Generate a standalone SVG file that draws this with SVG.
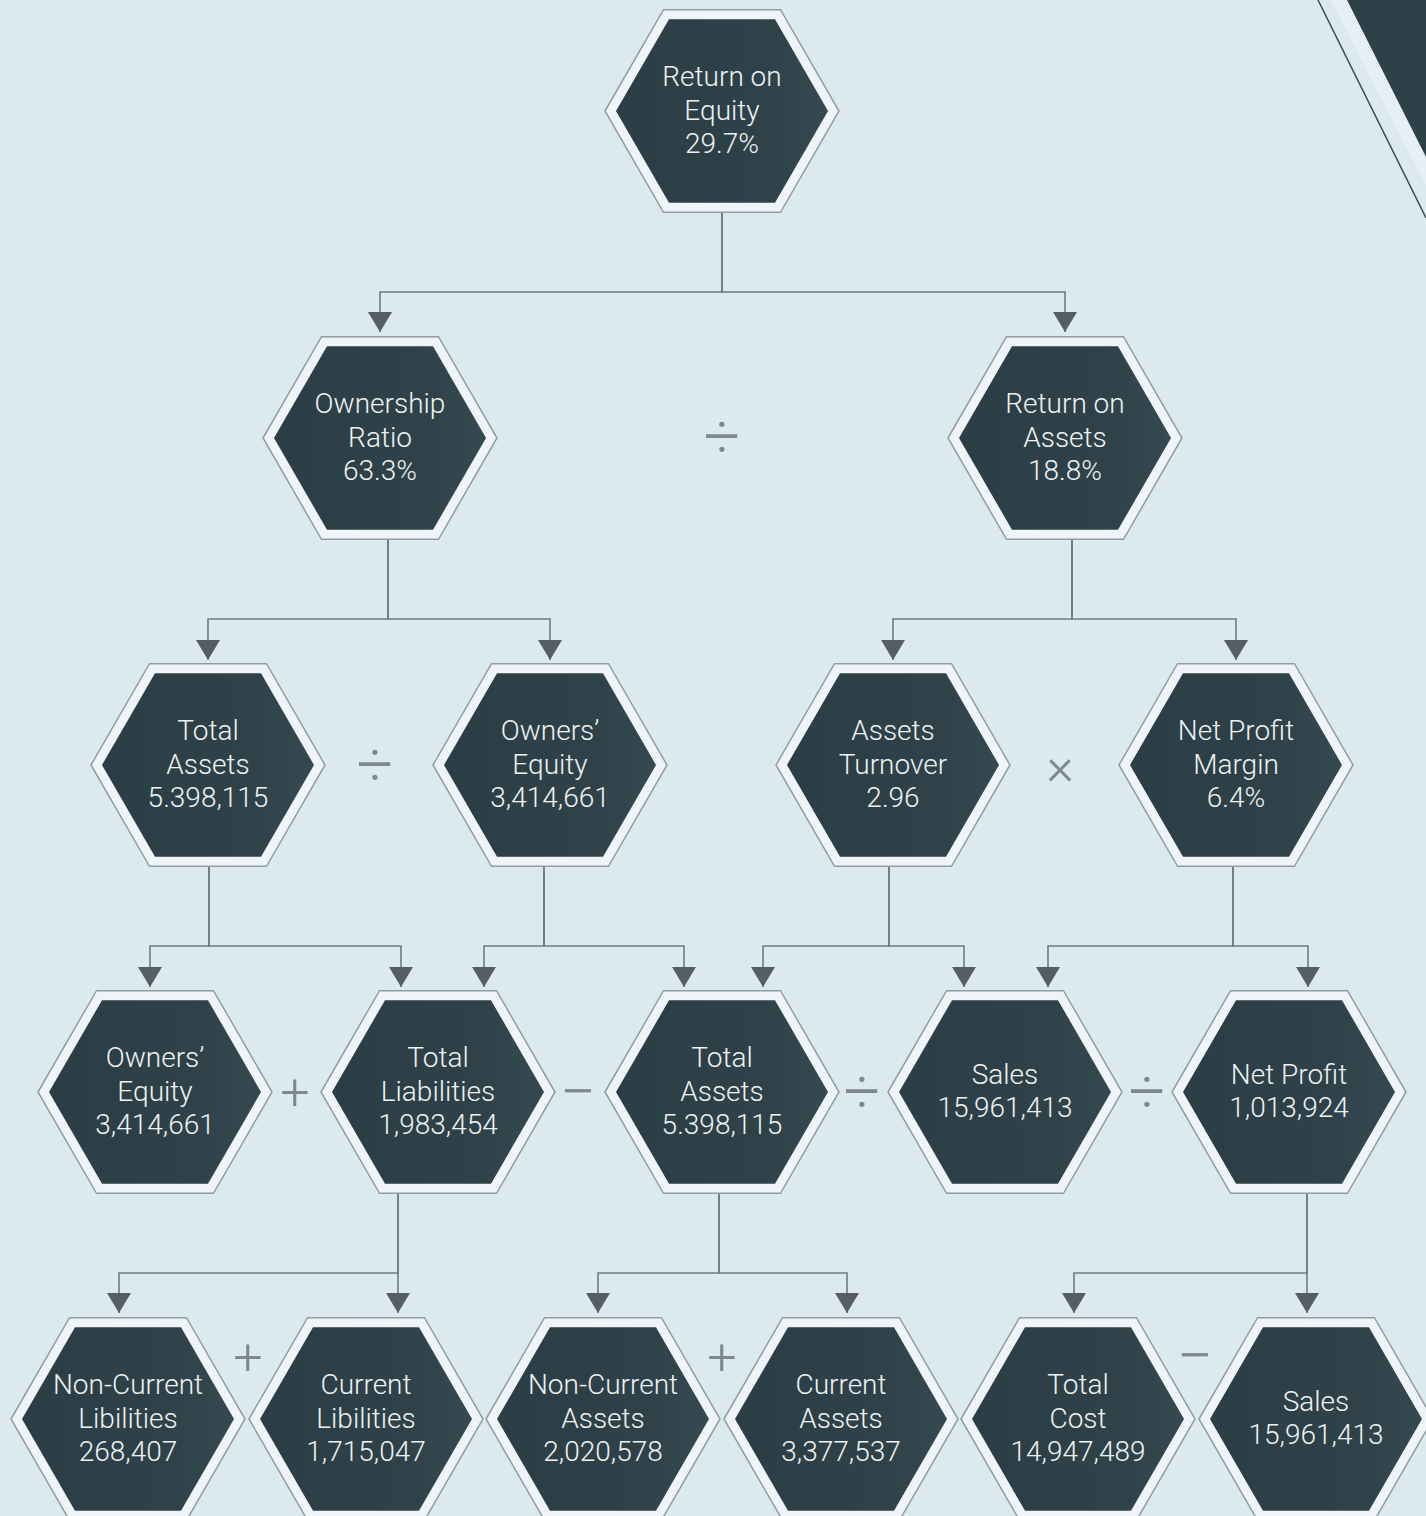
<svg xmlns="http://www.w3.org/2000/svg" xmlns:xlink="http://www.w3.org/1999/xlink" width="1426" height="1516" viewBox="0 0 1426 1516">
<style>
.ho{fill:#eef4f7;stroke:#8f9ea4;stroke-width:1.5}
.hi{fill:url(#dark)}
.t{font-family:Roboto,"Liberation Sans",sans-serif;font-weight:300;font-size:28px;fill:#eef2f3;text-anchor:middle}
.op{font-family:Roboto,"Liberation Sans",sans-serif;font-weight:300;font-size:52px;fill:#7d888c;text-anchor:middle;dominant-baseline:central}
.op.big{font-size:64px}
.c{fill:none;stroke:#6f7b80;stroke-width:1.6;marker-end:url(#arr)}
</style>
<defs>
<linearGradient id="dark" x1="0" y1="0" x2="1" y2="0">
<stop offset="0" stop-color="#2c3e45"/>
<stop offset="0.7" stop-color="#2f4249"/>
<stop offset="1" stop-color="#354950"/>
</linearGradient>
<polygon id="hexO" points="-117,0 -58.5,-101.3 58.5,-101.3 117,0 58.5,101.3 -58.5,101.3"/>
<polygon id="hexI" points="-106,0 -53,-91.8 53,-91.8 106,0 53,91.8 -53,91.8"/>
<marker id="arr" markerUnits="userSpaceOnUse" viewBox="0 0 20 24" refX="20" refY="12" markerWidth="20" markerHeight="24" orient="auto">
<path d="M0,0 L20,12 L0,24 z" fill="#555f63"/>
</marker>
</defs>
<rect width="1426" height="1516" fill="#dce9ef"/>
<g id="corner">
<polygon points="1331,0 1347,0 1426,157 1426,186" fill="#e6eff3"/>
<polygon points="1347,0 1426,0 1426,157" fill="#2f4148"/>
<line x1="1318" y1="0" x2="1426" y2="218" stroke="#3c4b51" stroke-width="1.5"/>
</g>
<g id="connectors">
<path class="c" d="M722,212 V292 H380 V332"/>
<path class="c" d="M722,212 V292 H1065 V332"/>
<path class="c" d="M388,539 V619 H208 V660"/>
<path class="c" d="M388,539 V619 H550 V660"/>
<path class="c" d="M1072,539 V619 H893 V660"/>
<path class="c" d="M1072,539 V619 H1236 V660"/>
<path class="c" d="M209,866 V946 H150 V987"/>
<path class="c" d="M209,866 V946 H401 V987"/>
<path class="c" d="M544,866 V946 H484 V987"/>
<path class="c" d="M544,866 V946 H684 V987"/>
<path class="c" d="M889,866 V946 H763 V987"/>
<path class="c" d="M889,866 V946 H964 V987"/>
<path class="c" d="M1233,866 V946 H1048 V987"/>
<path class="c" d="M1233,866 V946 H1308 V987"/>
<path class="c" d="M398,1193 V1273 H119 V1313"/>
<path class="c" d="M398,1193 V1313"/>
<path class="c" d="M719,1193 V1273 H598 V1313"/>
<path class="c" d="M719,1193 V1273 H847 V1313"/>
<path class="c" d="M1307,1193 V1273 H1074 V1313"/>
<path class="c" d="M1307,1193 V1313"/>
</g>
<g id="n-roe" transform="translate(722,111)"><use href="#hexO" class="ho"/><use href="#hexI" class="hi"/><text class="t" y="-25">Return on</text><text class="t" y="9">Equity</text><text class="t" y="42">29.7%</text></g>
<g id="n-or" transform="translate(380,438)"><use href="#hexO" class="ho"/><use href="#hexI" class="hi"/><text class="t" y="-25">Ownership</text><text class="t" y="9">Ratio</text><text class="t" y="42">63.3%</text></g>
<g id="n-roa" transform="translate(1065,438)"><use href="#hexO" class="ho"/><use href="#hexI" class="hi"/><text class="t" y="-25">Return on</text><text class="t" y="9">Assets</text><text class="t" y="42">18.8%</text></g>
<g id="n-ta2" transform="translate(208,765)"><use href="#hexO" class="ho"/><use href="#hexI" class="hi"/><text class="t" y="-25">Total</text><text class="t" y="9">Assets</text><text class="t" y="42">5.398,115</text></g>
<g id="n-oe2" transform="translate(550,765)"><use href="#hexO" class="ho"/><use href="#hexI" class="hi"/><text class="t" y="-25">Owners’</text><text class="t" y="9">Equity</text><text class="t" y="42">3,414,661</text></g>
<g id="n-at" transform="translate(893,765)"><use href="#hexO" class="ho"/><use href="#hexI" class="hi"/><text class="t" y="-25">Assets</text><text class="t" y="9">Turnover</text><text class="t" y="42">2.96</text></g>
<g id="n-npm" transform="translate(1236,765)"><use href="#hexO" class="ho"/><use href="#hexI" class="hi"/><text class="t" y="-25">Net Profit</text><text class="t" y="9">Margin</text><text class="t" y="42">6.4%</text></g>
<g id="n-oe3" transform="translate(155,1092)"><use href="#hexO" class="ho"/><use href="#hexI" class="hi"/><text class="t" y="-25">Owners’</text><text class="t" y="9">Equity</text><text class="t" y="42">3,414,661</text></g>
<g id="n-tl" transform="translate(438,1092)"><use href="#hexO" class="ho"/><use href="#hexI" class="hi"/><text class="t" y="-25">Total</text><text class="t" y="9">Liabilities</text><text class="t" y="42">1,983,454</text></g>
<g id="n-ta3" transform="translate(722,1092)"><use href="#hexO" class="ho"/><use href="#hexI" class="hi"/><text class="t" y="-25">Total</text><text class="t" y="9">Assets</text><text class="t" y="42">5.398,115</text></g>
<g id="n-sales3" transform="translate(1005,1092)"><use href="#hexO" class="ho"/><use href="#hexI" class="hi"/><text class="t" y="-8">Sales</text><text class="t" y="25">15,961,413</text></g>
<g id="n-np" transform="translate(1289,1092)"><use href="#hexO" class="ho"/><use href="#hexI" class="hi"/><text class="t" y="-8">Net Profit</text><text class="t" y="25">1,013,924</text></g>
<g id="n-ncl" transform="translate(128,1419)"><use href="#hexO" class="ho"/><use href="#hexI" class="hi"/><text class="t" y="-25">Non-Current</text><text class="t" y="9">Libilities</text><text class="t" y="42">268,407</text></g>
<g id="n-cl" transform="translate(366,1419)"><use href="#hexO" class="ho"/><use href="#hexI" class="hi"/><text class="t" y="-25">Current</text><text class="t" y="9">Libilities</text><text class="t" y="42">1,715,047</text></g>
<g id="n-nca" transform="translate(603,1419)"><use href="#hexO" class="ho"/><use href="#hexI" class="hi"/><text class="t" y="-25">Non-Current</text><text class="t" y="9">Assets</text><text class="t" y="42">2,020,578</text></g>
<g id="n-ca" transform="translate(841,1419)"><use href="#hexO" class="ho"/><use href="#hexI" class="hi"/><text class="t" y="-25">Current</text><text class="t" y="9">Assets</text><text class="t" y="42">3,377,537</text></g>
<g id="n-tc" transform="translate(1078,1419)"><use href="#hexO" class="ho"/><use href="#hexI" class="hi"/><text class="t" y="-25">Total</text><text class="t" y="9">Cost</text><text class="t" y="42">14,947,489</text></g>
<g id="n-sales4" transform="translate(1316,1419)"><use href="#hexO" class="ho"/><use href="#hexI" class="hi"/><text class="t" y="-8">Sales</text><text class="t" y="25">15,961,413</text></g>
<g id="operators">
<text class="op big" x="722" y="437">÷</text>
<text class="op big" x="375" y="765">÷</text>
<text class="op" x="1060" y="766">×</text>
<text class="op" x="295" y="1092">+</text>
<text class="op big" x="578" y="1092">−</text>
<text class="op big" x="862" y="1092">÷</text>
<text class="op big" x="1147" y="1092">÷</text>
<text class="op" x="248" y="1357">+</text>
<text class="op" x="722" y="1357">+</text>
<text class="op big" x="1195" y="1356">−</text>
</g>
</svg>
